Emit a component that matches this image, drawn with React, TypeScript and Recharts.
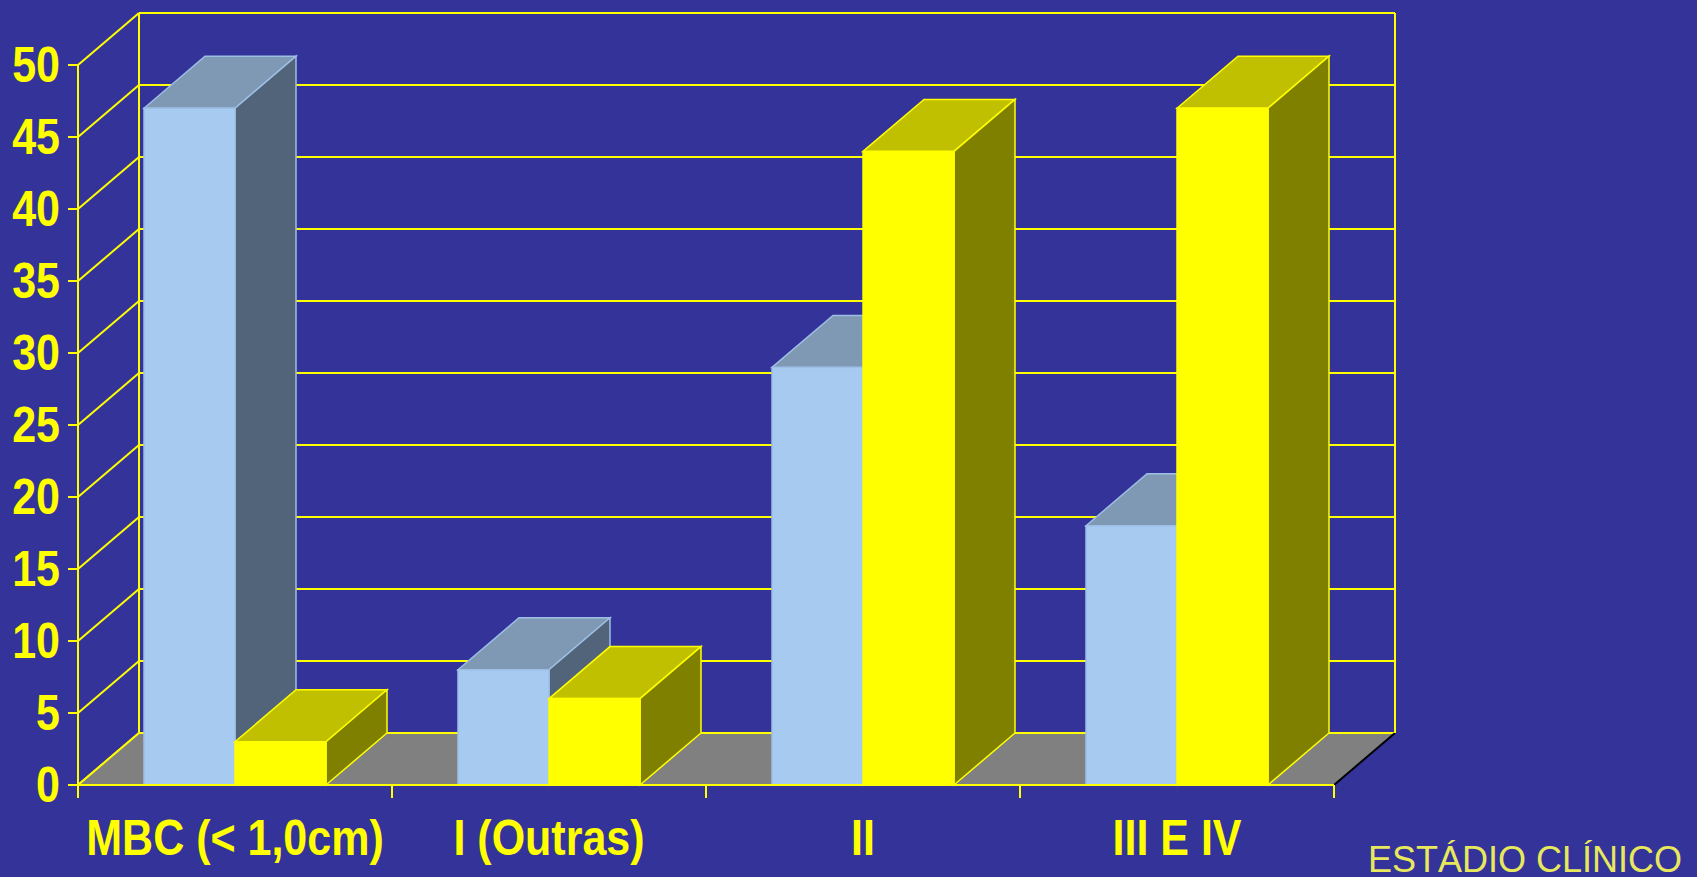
import { BarChart, Bar, XAxis, YAxis, CartesianGrid, ReferenceArea } from "recharts"

const categorias = ["MBC (< 1,0cm)", "I (Outras)", "II", "III E IV"]
const serieAzul = [47, 8, 29, 18]
const serieAmarela = [3, 6, 44, 47]
const ticksY = [0, 5, 10, 15, 20, 25, 30, 35, 40, 45, 50]

const data = categorias.map((c, i) => ({
  estadio: c,
  azul: serieAzul[i],
  amarela: serieAmarela[i],
}))

const FUNDO = "#333399"
const AMARELO = "#FFFF00"
const FONTE = "'Liberation Sans', Arial, sans-serif"
// profundidade do efeito 3D
const DX = 61
const DY = 52

const barra3d = (frente: string, topo: string, lado: string, borda: string) => (props: any) => {
  const { x, y, width: w, height: h } = props
  if (h == null || w == null) return null
  return (
    <g>
      <polygon
        points={`${x},${y} ${x + DX},${y - DY} ${x + w + DX},${y - DY} ${x + w},${y}`}
        fill={topo}
        stroke={borda}
        strokeWidth={1.5}
      />
      <polygon
        points={`${x + w},${y} ${x + w + DX},${y - DY} ${x + w + DX},${y + h - DY} ${x + w},${y + h}`}
        fill={lado}
        stroke={borda}
        strokeWidth={1.5}
      />
      <rect x={x} y={y} width={w} height={h} fill={frente} stroke={borda} strokeWidth={1.5} />
    </g>
  )
}

const linhaParede = (props: any) => {
  const { x1, y1, x2, key } = props
  return (
    <g key={key}>
      <line x1={x1} y1={y1} x2={x1 + DX} y2={y1 - DY} stroke={AMARELO} strokeWidth={2} />
      <line x1={x1 + DX} y1={y1 - DY} x2={x2 + DX} y2={y1 - DY} stroke={AMARELO} strokeWidth={2} />
    </g>
  )
}

const Paredes = (props: any) => {
  const { x, y, width, height } = props
  const base = y + height
  return (
    <g>
      <polygon
        points={`${x},${base} ${x + DX},${base - DY} ${x + width + DX},${base - DY} ${x + width},${base}`}
        fill="#808080"
      />
      <line x1={x} y1={base} x2={x + DX} y2={base - DY} stroke={AMARELO} strokeWidth={2} />
      <line x1={x + DX} y1={base - DY} x2={x + width + DX} y2={base - DY} stroke={AMARELO} strokeWidth={2} />
      <line x1={x + width} y1={base} x2={x + width + DX} y2={base - DY} stroke="#000" strokeWidth={2} />
      <line x1={x + DX} y1={y - DY} x2={x + DX} y2={base - DY} stroke={AMARELO} strokeWidth={2} />
      <line x1={x + width + DX} y1={y - DY} x2={x + width + DX} y2={base - DY} stroke={AMARELO} strokeWidth={2} />
    </g>
  )
}

const TickY = (props: any) => {
  const { x, y, payload } = props
  return (
    <text
      transform={`translate(${x},${y}) scale(1,1.14)`}
      y={15}
      textAnchor="end"
      fill={AMARELO}
      fontSize={43}
      fontWeight="bold"
      fontFamily={FONTE}
    >
      {payload.value}
    </text>
  )
}

const TickX = (props: any) => {
  const { x, y, payload, index, visibleTicksCount } = props
  const meio = payload.offset ?? 0
  return (
    <g>
      <line x1={x - meio} y1={y} x2={x - meio} y2={y + 13} stroke={AMARELO} strokeWidth={2} />
      {index === visibleTicksCount - 1 && (
        <line x1={x + meio} y1={y} x2={x + meio} y2={y + 13} stroke={AMARELO} strokeWidth={2} />
      )}
      <text
        transform={`translate(${x},${y}) scale(1,1.14)`}
        y={61.4}
        textAnchor="middle"
        fill={AMARELO}
        fontSize={43}
        fontWeight="bold"
        fontFamily={FONTE}
      >
        {payload.value}
      </text>
    </g>
  )
}

export default function App() {
  return (
    <div style={{ position: "absolute", left: 0, top: 0, width: 1697, height: 877, background: FUNDO }}>
      <BarChart
        width={1697}
        height={877}
        data={data}
        margin={{ top: 65, right: 363, left: 0, bottom: 0 }}
        barCategoryGap={66}
        barGap={0}
      >
        <CartesianGrid vertical={false} horizontal={linhaParede} />
        <ReferenceArea y1={0} y2={50} ifOverflow="visible" shape={Paredes} />
        <XAxis
          dataKey="estadio"
          height={92}
          tickLine={false}
          tickSize={0}
          tickMargin={0}
          axisLine={{ stroke: AMARELO, strokeWidth: 2 }}
          tick={TickX}
          interval={0}
        />
        <YAxis
          width={78}
          domain={[0, 50]}
          ticks={ticksY}
          interval={0}
          tickSize={10}
          tickMargin={8}
          tickLine={{ stroke: AMARELO, strokeWidth: 2 }}
          axisLine={{ stroke: AMARELO, strokeWidth: 2 }}
          tick={TickY}
        />
        <Bar
          dataKey="azul"
          fill="#A6CAF0"
          isAnimationActive={false}
          shape={barra3d("#A6CAF0", "#7F98B3", "#526479", "#9DBFE6")}
        />
        <Bar
          dataKey="amarela"
          fill={AMARELO}
          isAnimationActive={false}
          shape={barra3d(AMARELO, "#C0C000", "#808000", AMARELO)}
        />
      </BarChart>
      <div
        style={{
          position: "absolute",
          left: 1368,
          top: 842,
          fontFamily: FONTE,
          fontSize: 36,
          lineHeight: "36px",
          color: "#E8E85C",
          whiteSpace: "nowrap",
        }}
      >
        ESTÁDIO CLÍNICO
      </div>
    </div>
  )
}
